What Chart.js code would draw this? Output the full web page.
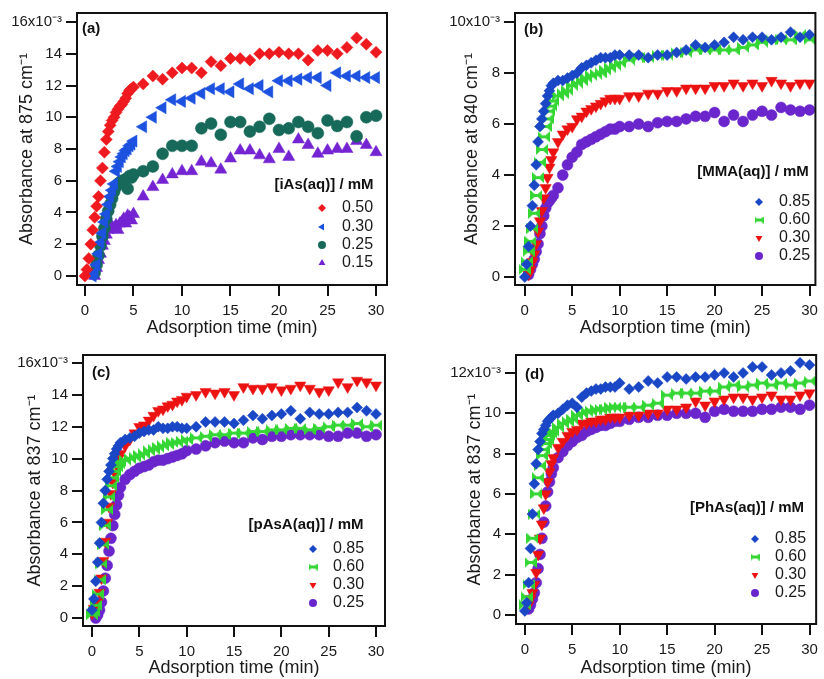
<!DOCTYPE html>
<html>
<head>
<meta charset="utf-8">
<script src="https://cdn.jsdelivr.net/npm/chart.js@4.4.1/dist/chart.umd.min.js"></script>
<style>
  html, body { margin: 0; padding: 0; background: #fff; }
  #wrap { position: relative; width: 824px; height: 679px; overflow: hidden; }
  #wrap canvas { position: absolute; }
</style>
</head>
<body>
<div id="wrap">
  <canvas id="chartA" width="412" height="340" style="left:0;top:0"></canvas>
  <canvas id="chartB" width="412" height="340" style="left:412px;top:0"></canvas>
  <canvas id="chartC" width="412" height="339" style="left:0;top:340px"></canvas>
  <canvas id="chartD" width="412" height="339" style="left:412px;top:340px"></canvas>
</div>
<script>
// time axes (min)
const timeA = [0,0.2,0.4,0.6,0.8,1,1.2,1.4,1.6,1.8,2,2.2,2.4,2.6,2.8,3,3.2,3.4,3.6,3.8,4,4.2,4.4,4.6,4.8,5,
  6,7,8,9,10,11,12,13,14,15,16,17,18,19,20,21,22,23,24,25,26,27,28,29,30];
const timeBCD = [0,0.2,0.4,0.6,0.8,1,1.2,1.4,1.6,1.8,2,2.2,2.4,2.6,2.8,3,
  3.5,4,4.5,5,5.5,6,6.5,7,7.5,8,8.5,9,9.5,10,
  11,12,13,14,15,16,17,18,19,20,21,22,23,24,25,26,27,28,29,30];

// (a) iAs, absorbance x1e-3
const aRed = [0,0.4,1.1,2.0,2.9,3.7,4.4,5.0,6.0,6.8,7.8,8.6,9.1,9.5,9.8,10.0,10.3,10.5,10.7,10.8,11.0,11.2,11.5,11.7,11.8,11.9,
  12.1,12.6,12.4,12.8,13.1,13.1,12.8,13.5,13.25,13.7,13.7,13.6,14.0,14.0,14.1,14.0,14.0,13.6,14.2,14.2,14.0,14.4,15.0,14.6,14.1];
const aBlue = [null,null,null,null,0,0.2,0.7,1.4,2.1,2.7,3.4,3.9,4.5,5.0,5.4,5.8,6.6,6.9,7.2,7.5,7.7,7.9,8.0,8.2,8.3,8.5,
  9.4,10.0,10.6,11.1,11.0,11.2,11.5,11.8,11.8,11.6,12.1,11.8,12.0,11.6,12.3,12.3,12.4,12.5,12.5,12.0,12.8,12.6,12.6,12.5,12.5];
const aTeal = [null,null,null,null,null,0.2,0.7,1.3,1.9,2.5,3.0,3.6,4.1,4.5,4.9,5.3,5.6,5.8,5.9,6.0,5.9,6.1,5.5,6.3,6.2,6.4,
  6.6,6.9,7.7,8.2,8.2,8.2,9.3,9.6,8.9,9.7,9.7,9.1,9.4,9.9,9.2,9.3,9.7,9.4,9.0,9.8,9.45,9.7,8.8,10.0,10.1];
const aPurple = [null,null,null,null,null,0,0.5,1.0,1.4,1.9,2.2,2.6,2.9,3.1,3.1,3.0,3.2,2.9,3.3,3.4,3.6,3.3,3.8,3.7,3.5,3.9,
  5.0,5.6,6.05,6.4,6.6,6.6,7.2,7.1,6.7,7.4,7.9,7.9,7.6,7.35,8.0,7.5,8.6,8.25,7.7,7.9,8.0,8.0,8.5,8.25,7.8];

// (b) MMA
const bBlue = [0,0.5,1.2,2.0,2.8,3.6,4.4,5.3,5.9,6.2,6.5,6.8,7.1,7.3,7.5,7.6,
  7.7,7.7,7.8,7.9,8.0,8.2,8.3,8.4,8.5,8.6,8.6,8.6,8.7,8.7,
  8.7,8.7,8.6,8.7,8.7,8.8,8.9,9.1,9.0,9.1,9.2,9.4,9.3,9.4,9.4,9.3,9.4,9.6,9.4,9.5];
const bGreen = [0.3,0.6,1.0,1.4,1.9,2.5,3.2,3.9,4.5,5.0,5.5,5.9,6.2,6.5,6.7,6.9,
  7.1,7.2,7.3,7.5,7.6,7.7,7.8,7.9,7.95,8.0,8.1,8.2,8.3,8.4,
  8.5,8.6,8.6,8.7,8.7,8.8,8.8,8.9,8.9,8.9,8.9,8.9,9.0,9.1,9.2,9.3,9.3,9.3,9.5,9.3];
const bRed = [null,null,0.1,0.3,0.6,0.9,1.3,1.8,2.2,2.6,3.1,3.5,3.9,4.3,4.6,4.9,
  5.3,5.6,5.8,5.9,6.2,6.3,6.5,6.6,6.7,6.8,6.9,7.0,7.0,7.0,
  7.1,7.1,7.2,7.2,7.3,7.3,7.4,7.4,7.4,7.5,7.5,7.6,7.5,7.6,7.5,7.7,7.6,7.5,7.6,7.6];
const bPurple = [null,null,0.1,0.3,0.5,0.7,1.0,1.3,1.7,2.0,2.4,2.7,2.9,3.0,3.1,3.2,
  3.5,4.0,4.4,4.7,4.9,5.2,5.3,5.4,5.5,5.6,5.7,5.8,5.8,5.9,
  5.9,6.0,5.9,6.05,6.1,6.1,6.2,6.3,6.3,6.45,6.1,6.35,6.1,6.35,6.5,6.35,6.65,6.55,6.5,6.55];

// (c) pAsA
const cBlue = [0.5,1.2,2.3,3.5,4.7,6.0,7.2,8.0,8.7,9.2,9.6,10.0,10.3,10.6,10.8,11.0,
  11.2,11.3,11.4,11.6,11.7,11.8,11.8,12.0,11.9,11.9,12.0,12.0,11.9,11.9,
  12.0,12.3,12.3,12.3,12.2,12.4,12.7,12.5,12.7,12.8,13.0,12.5,12.9,12.8,12.8,12.9,12.9,13.2,13.0,12.8];
const cGreen = [0.2,0.4,0.8,1.5,2.4,3.4,4.6,5.8,6.8,7.6,8.3,8.8,9.2,9.5,9.7,9.8,
  9.9,10.0,10.1,10.2,10.3,10.5,10.6,10.7,10.8,10.9,11.0,11.0,11.1,11.2,
  11.3,11.4,11.5,11.5,11.6,11.6,11.7,11.7,11.8,11.8,11.9,11.9,11.8,11.9,12.0,12.1,12.1,12.2,12.0,12.1];
const cRed = [0.3,0.6,0.8,1.0,1.6,2.5,3.6,4.8,6.0,7.0,7.8,8.5,9.1,9.6,10.0,10.3,
  10.8,11.2,11.6,12.0,12.1,12.4,12.7,13.0,13.1,13.3,13.4,13.6,13.7,13.9,
  14.0,14.2,14.1,14.2,14.0,14.5,14.4,14.4,14.5,14.3,14.4,14.6,14.4,14.2,14.3,14.8,14.5,14.9,14.8,14.6];
const cPurple = [null,null,0.0,0.2,0.5,1.0,1.7,2.5,3.3,4.2,5.0,5.8,6.5,7.1,7.7,8.2,
  8.7,9.0,9.2,9.4,9.5,9.6,9.8,9.9,9.9,10.0,10.1,10.2,10.3,10.5,
  10.6,10.8,11.0,11.1,11.0,11.0,11.3,11.2,11.4,11.4,11.5,11.5,11.5,11.5,11.4,11.4,11.6,11.6,11.4,11.5];

// (d) PhAs
const dBlue = [0.2,0.6,1.6,3.3,5.0,6.5,7.5,8.2,8.6,9.0,9.2,9.4,9.6,9.7,9.8,9.9,
  10.0,10.2,10.4,10.5,10.3,10.8,11.0,11.1,11.2,11.2,11.3,11.3,11.3,11.5,
  11.2,11.3,11.6,11.5,11.8,11.8,11.7,11.8,11.8,11.9,12.0,11.8,12.0,12.3,12.3,11.9,12.0,12.1,12.5,12.4];
const dGreen = [0.5,0.9,1.5,2.6,3.8,5.0,6.0,6.8,7.4,7.9,8.2,8.5,8.7,8.9,9.0,9.1,
  9.3,9.5,9.6,9.7,9.9,10.0,10.1,10.1,10.2,10.2,10.2,10.3,10.3,10.3,
  10.3,10.3,10.4,10.5,10.9,11.0,11.0,11.0,11.1,11.1,11.3,11.4,11.3,11.4,11.5,11.4,11.5,11.4,11.5,11.6];
const dRed = [null,null,0.5,0.8,1.1,1.5,2.1,3.0,3.8,4.5,5.3,6.0,6.6,7.1,7.5,7.8,
  8.3,8.6,8.9,9.1,9.2,9.5,9.5,9.6,9.6,9.7,9.7,9.8,9.8,9.8,
  9.9,9.9,10.0,10.0,10.2,10.2,10.3,10.6,10.4,10.6,10.7,10.8,10.8,10.7,10.8,10.9,10.7,10.7,10.9,11.0];
const dPurple = [null,null,0.3,0.5,0.8,1.1,1.6,2.3,3.0,3.8,4.6,5.4,6.1,6.6,7.0,7.3,
  7.8,8.1,8.4,8.6,8.8,8.9,9.1,9.2,9.3,9.4,9.4,9.5,9.6,9.6,
  9.7,9.8,9.8,9.9,9.9,10.0,10.0,10.0,9.8,10.1,10.2,10.1,10.1,10.1,10.2,10.2,10.3,10.3,10.2,10.4];

const legendA = ['0.50', '0.30', '0.25', '0.15'];
const legendBCD = ['0.85', '0.60', '0.30', '0.25'];

const xTicks = [0, 5, 10, 15, 20, 25, 30];
const yTicksA = [0, 2, 4, 6, 8, 10, 12, 14, 16];
const yTicksB = [0, 2, 4, 6, 8, 10];
const yTicksC = [0, 2, 4, 6, 8, 10, 12, 14, 16];
const yTicksD = [0, 2, 4, 6, 8, 10, 12];

const FONT = '"Liberation Sans", Arial, sans-serif';
Chart.defaults.font.family = FONT;
Chart.defaults.color = '#1a1a1a';

// sideways bowtie marker, drawn once as a small canvas
function bowtie(w, h, color) {
  const c = document.createElement('canvas');
  c.width = w; c.height = h;
  const g = c.getContext('2d');
  g.fillStyle = color;
  g.beginPath();
  g.moveTo(0, 0); g.lineTo(w / 2, h / 2); g.lineTo(0, h); g.closePath();
  g.moveTo(w, 0); g.lineTo(w / 2, h / 2); g.lineTo(w, h); g.closePath();
  g.fill();
  g.fillRect(w / 2 - 1.5, h / 2 - 1.5, 3, 3);
  return c;
}

function points(xs, ys) {
  const out = [];
  xs.forEach((x, i) => { if (ys[i] !== null) out.push({ x: x, y: ys[i] }); });
  return out;
}

function series(label, xs, ys, color, style, rotation, radius, legendStyle) {
  return {
    label: label,
    data: points(xs, ys),
    showLine: false,
    backgroundColor: color,
    borderColor: color,
    pointBackgroundColor: color,
    pointBorderColor: color,
    pointBorderWidth: 0.5,
    pointStyle: style,
    rotation: rotation,
    pointRadius: radius,
    pointHoverRadius: radius,
    legendStyle: legendStyle || style
  };
}

// frame, panel letter and in-plot legend
const panelDeco = {
  id: 'panelDeco',
  afterDatasetsDraw(chart, args, o) {
    const ctx = chart.ctx;
    const a = chart.chartArea;
    ctx.save();
    ctx.lineWidth = 2;
    ctx.strokeStyle = '#111';
    ctx.strokeRect(a.left, a.top, a.right - a.left, a.bottom - a.top);

    ctx.fillStyle = '#111';
    ctx.textBaseline = 'middle';
    ctx.font = 'bold 15px ' + FONT;
    ctx.textAlign = 'left';
    ctx.fillText(o.label, o.labelX, o.labelY);
    ctx.textAlign = 'center';
    ctx.fillText(o.title, o.titleX, o.titleY);

    ctx.font = '16px ' + FONT;
    ctx.textAlign = 'left';
    chart.data.datasets.forEach((ds, i) => {
      const y = o.rowY[i];
      ctx.fillStyle = ds.backgroundColor;
      ctx.strokeStyle = ds.backgroundColor;
      Chart.helpers.drawPoint(ctx, {
        pointStyle: ds.legendStyle, rotation: ds.rotation,
        radius: o.markerR, borderWidth: 0
      }, o.markerX, y);
      ctx.fillStyle = '#1a1a1a';
      ctx.fillText(ds.label, o.textX, y);
    });
    ctx.restore();
  }
};

function scales(p) {
  return {
    x: {
      type: 'linear', min: p.xMin, max: p.xMax,
      afterBuildTicks: s => { s.ticks = xTicks.map(v => ({ value: v })); },
      afterFit: s => { s.height = p.xAxisH; },
      grid: { drawOnChartArea: false, drawTicks: true, tickLength: 11, lineWidth: 2, color: '#111' },
      border: { display: true, color: '#111', width: 2 },
      ticks: { padding: 6, font: { size: 15 }, color: '#1a1a1a', maxRotation: 0 },
      title: { display: true, text: 'Adsorption time (min)', font: { size: 18 },
        color: '#1a1a1a', padding: { top: 0, bottom: p.xTitlePad } }
    },
    y: {
      type: 'linear', min: p.yMin, max: p.yMax,
      afterBuildTicks: s => { s.ticks = p.yTicks.map(v => ({ value: v })); },
      afterFit: s => { s.width = p.yAxisW; },
      grid: { drawOnChartArea: false, drawTicks: true, tickLength: 11, lineWidth: 2, color: '#111' },
      border: { display: true, color: '#111', width: 2 },
      ticks: {
        padding: 4, font: { size: 15 }, color: '#1a1a1a',
        callback: v => v === p.yTicks[p.yTicks.length - 1] ? v + 'x10\u207B\u00B3' : String(v)
      },
      title: { display: true, text: p.yTitle, font: { size: 18 }, color: '#1a1a1a',
        padding: { top: p.yTitlePad, bottom: 0 } }
    }
  };
}

function makePanel(id, datasets, p, deco) {
  return new Chart(document.getElementById(id), {
    type: 'scatter',
    data: { datasets: datasets },
    options: {
      responsive: false,
      animation: false,
      events: [],
      layout: { padding: p.pad },
      scales: scales(p),
      plugins: { legend: { display: false }, tooltip: { enabled: false }, panelDeco: deco }
    },
    plugins: [panelDeco]
  });
}

const RED = '#ee1a1f', BLUE = '#1d52e0', TEAL = '#17695a', PURPLE = '#7424d2';
const BLUE2 = '#1a47c6', GREEN = '#33d633', RED2 = '#ec1212', PURPLE2 = '#6a26cc';

makePanel('chartA', [
  series(legendA[0], timeA, aRed, RED, 'rectRot', 0, 6),
  series(legendA[1], timeA, aBlue, BLUE, 'triangle', -90, 7),
  series(legendA[2], timeA, aTeal, TEAL, 'circle', 0, 6),
  series(legendA[3], timeA, aPurple, PURPLE, 'triangle', 0, 7)
], {
  xMin: -0.82, xMax: 31.13, yMin: -0.57, yMax: 16.57, yTicks: yTicksA,
  yTitle: 'Absorbance at 875 cm\u207B\u00B9', yAxisW: 77, yTitlePad: 16, xAxisH: 55, xTitlePad: 1,
  pad: { left: 0, top: 13, right: 25, bottom: 0 }
}, {
  label: '(a)', labelX: 82, labelY: 29, title: '[iAs(aq)] / mM', titleX: 324, titleY: 185,
  markerX: 322, textX: 342, rowY: [208, 227, 245, 263], markerR: 4
});

makePanel('chartB', [
  series(legendBCD[0], timeBCD, bBlue, BLUE2, 'rectRot', 0, 5.5),
  series(legendBCD[1], timeBCD, bGreen, GREEN, bowtie(12, 11, GREEN), 0, 5.5, bowtie(9, 7, GREEN)),
  series(legendBCD[2], timeBCD, bRed, RED2, 'triangle', 180, 6.5),
  series(legendBCD[3], timeBCD, bPurple, PURPLE2, 'circle', 0, 5.5)
], {
  xMin: -1.03, xMax: 30.62, yMin: -0.31, yMax: 10.35, yTicks: yTicksB,
  yTitle: 'Absorbance at 840 cm\u207B\u00B9', yAxisW: 103, yTitlePad: 49, xAxisH: 55, xTitlePad: 1,
  pad: { left: 0, top: 13, right: 2, bottom: 0 }
}, {
  label: '(b)', labelX: 112, labelY: 30, title: '[MMA(aq)] / mM', titleX: 341, titleY: 172,
  markerX: 347, textX: 367, rowY: [202, 220, 238, 256], markerR: 4
});

makePanel('chartC', [
  series(legendBCD[0], timeBCD, cBlue, BLUE2, 'rectRot', 0, 5.5),
  series(legendBCD[1], timeBCD, cGreen, GREEN, bowtie(12, 11, GREEN), 0, 5.5, bowtie(9, 7, GREEN)),
  series(legendBCD[2], timeBCD, cRed, RED2, 'triangle', 180, 6.5),
  series(legendBCD[3], timeBCD, cPurple, PURPLE2, 'circle', 0, 5.5)
], {
  xMin: -0.95, xMax: 30.95, yMin: -0.5, yMax: 16.5, yTicks: yTicksC,
  yTitle: 'Absorbance at 837 cm\u207B\u00B9', yAxisW: 83, yTitlePad: 24, xAxisH: 53, xTitlePad: 0,
  pad: { left: 0, top: 15, right: 27, bottom: 0 }
}, {
  label: '(c)', labelX: 92, labelY: 33, title: '[pAsA(aq)] / mM', titleX: 306, titleY: 185,
  markerX: 313, textX: 333, rowY: [209, 227, 245, 263], markerR: 4
});

makePanel('chartD', [
  series(legendBCD[0], timeBCD, dBlue, BLUE2, 'rectRot', 0, 5.5),
  series(legendBCD[1], timeBCD, dGreen, GREEN, bowtie(12, 11, GREEN), 0, 5.5, bowtie(9, 7, GREEN)),
  series(legendBCD[2], timeBCD, dRed, RED2, 'triangle', 180, 6.5),
  series(legendBCD[3], timeBCD, dPurple, PURPLE2, 'circle', 0, 5.5)
], {
  xMin: -0.93, xMax: 30.7, yMin: -0.45, yMax: 12.89, yTicks: yTicksD,
  yTitle: 'Absorbance at 837 cm\u207B\u00B9', yAxisW: 104, yTitlePad: 52, xAxisH: 55, xTitlePad: 0,
  pad: { left: 0, top: 15, right: 2, bottom: 0 }
}, {
  label: '(d)', labelX: 113, labelY: 35, title: '[PhAs(aq)] / mM', titleX: 335, titleY: 168,
  markerX: 343, textX: 363, rowY: [199, 217, 235, 253], markerR: 4
});
</script>
</body>
</html>
